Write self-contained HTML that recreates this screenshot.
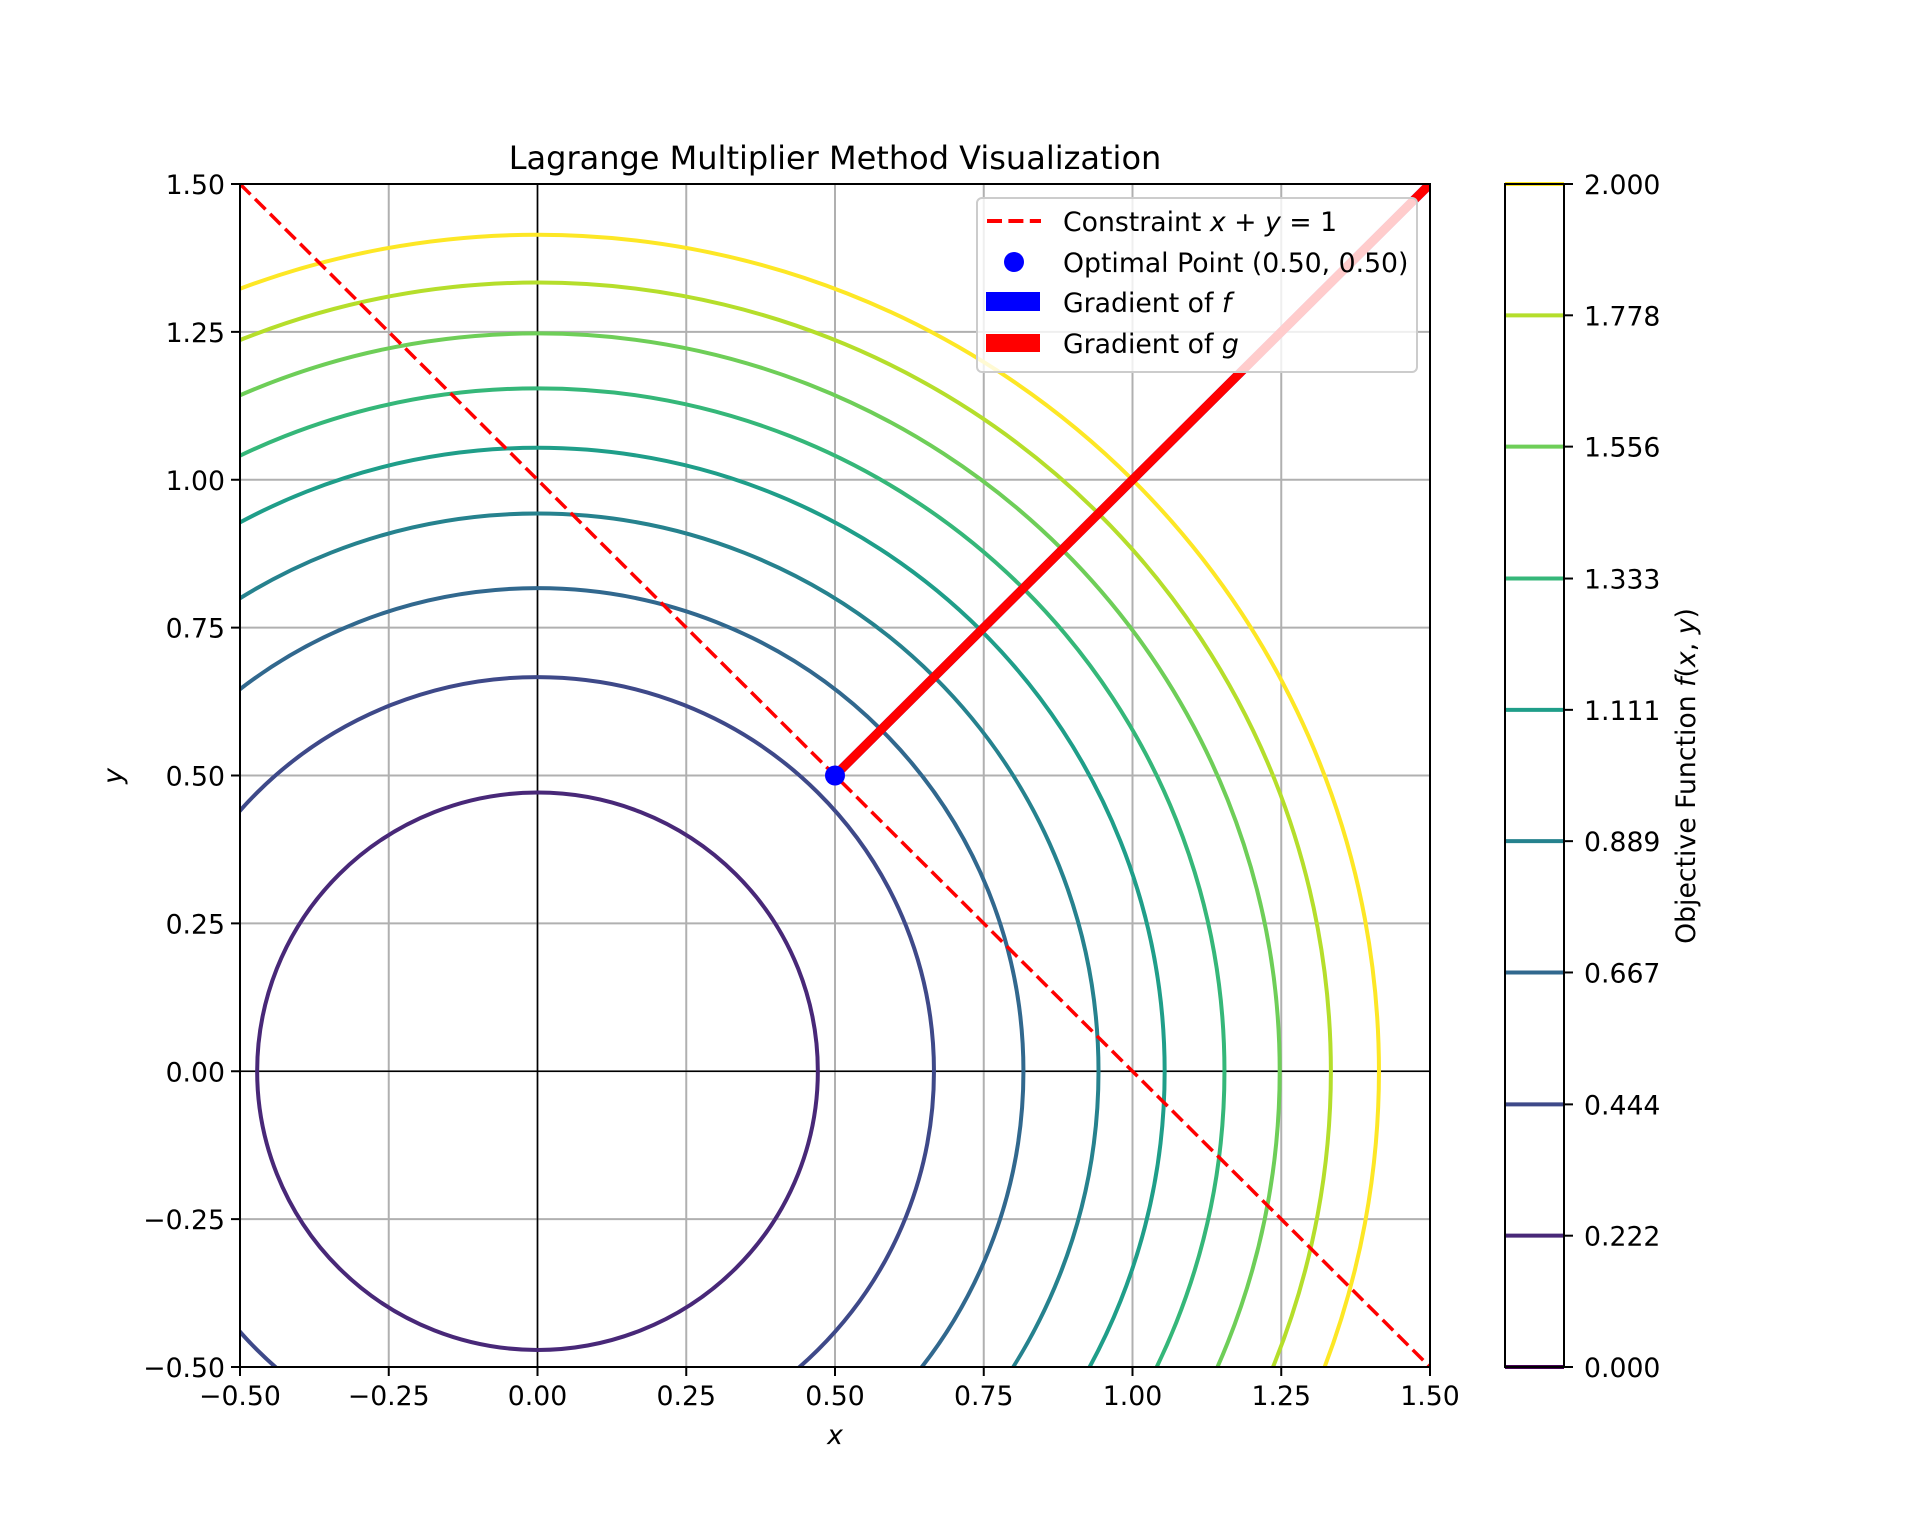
<!DOCTYPE html>
<html><head><meta charset="utf-8"><style>
html,body{margin:0;padding:0;background:#fff;width:1920px;height:1536px;overflow:hidden;}
svg{display:block;font-family:"DejaVu Sans","Liberation Sans",sans-serif;}
</style></head><body>
<svg id="chart" width="1920" height="1536" viewBox="0 0 1920 1536" xmlns="http://www.w3.org/2000/svg">
<defs><clipPath id="clip"><rect x="240" y="184" width="1190" height="1183"/></clipPath></defs>
<rect width="1920" height="1536" fill="#fff"/>
<text x="835" y="169" font-size="32" text-anchor="middle">Lagrange Multiplier Method Visualization</text>
<g id="grid"></g>
<g id="plot" clip-path="url(#clip)"></g>
<rect x="240" y="184" width="1190" height="1183" fill="none" stroke="#000" stroke-width="2"/>
<g id="ticks"></g>
<text x="835" y="1444" font-size="26.7" font-style="italic" text-anchor="middle">x</text>
<text x="0" y="0" font-size="26.7" font-style="italic" text-anchor="middle" transform="translate(122,776) rotate(-90)">y</text>
<g id="legend">
<rect x="977" y="198" width="440" height="174" rx="5" fill="#fff" fill-opacity="0.8" stroke="#ccc" stroke-width="2"/>
<line x1="987" y1="221" x2="1041" y2="221" stroke="red" stroke-width="4" stroke-dasharray="15,6.4"/>
<circle cx="1014" cy="262" r="10" fill="blue"/>
<rect x="986" y="292" width="54" height="19" fill="blue"/>
<rect x="986" y="334" width="54" height="18" fill="red"/>
<text x="1063" y="231" font-size="26.7">Constraint <tspan font-style="italic">x</tspan> + <tspan font-style="italic">y</tspan> = 1</text>
<text x="1063" y="272" font-size="26.7">Optimal Point (0.50, 0.50)</text>
<text x="1063" y="312" font-size="26.7">Gradient of <tspan font-style="italic">f</tspan></text>
<text x="1063" y="353" font-size="26.7">Gradient of <tspan font-style="italic">g</tspan></text>
</g>
<g id="cbar"></g>
<text x="0" y="0" font-size="26.7" text-anchor="middle" transform="translate(1695,776) rotate(-90)">Objective Function <tspan font-style="italic">f</tspan>(<tspan font-style="italic">x</tspan>, <tspan font-style="italic">y</tspan>)</text>
</svg>
<script>
const levels=[0,0.222,0.444,0.667,0.889,1.111,1.333,1.556,1.778,2.0];
const levelColors=["#440154","#482878","#3e4989","#31688e","#26828e","#1f9e89","#35b779","#6ece58","#b5de2b","#fde725"];
const xTicks=[-0.5,-0.25,0,0.25,0.5,0.75,1.0,1.25,1.5];
const yTicks=[-0.5,-0.25,0,0.25,0.5,0.75,1.0,1.25,1.5];
const cbarTicks=["0.000","0.222","0.444","0.667","0.889","1.111","1.333","1.556","1.778","2.000"];
const constraintX=[-0.5,1.5];
const constraintY=[1.5,-0.5];
const optimal=[0.5,0.5];
const gradG=[1,1];
const NS="http://www.w3.org/2000/svg";
const X0=240,X1=1430,Y0=1367,Y1=184;
function sx(v){return X0+(v+0.5)/2*(X1-X0);}
function sy(v){return Y0-(v+0.5)/2*(Y0-Y1);}
function cy(v){return 1367-v/2*(1367-184);}
function mk(tag,attrs,parent){const e=document.createElementNS(NS,tag);for(const k in attrs)e.setAttribute(k,attrs[k]);parent.appendChild(e);return e;}
const grid=document.getElementById('grid'),plot=document.getElementById('plot'),ticks=document.getElementById('ticks'),cbar=document.getElementById('cbar');
xTicks.forEach(t=>{
 const g=mk('line',{x1:sx(t),x2:sx(t),y1:Y1,y2:Y0,stroke:'#b0b0b0','stroke-width':2},grid);
 
 
 const tk=mk('line',{x1:sx(t),x2:sx(t),y1:Y0,y2:Y0+9,stroke:'#000','stroke-width':2},ticks);
 
 
 const tx=mk('text',{x:sx(t),y:Y0+38,'font-size':26.7,'text-anchor':'middle'},ticks);
 tx.textContent=(t<0?'\u2212':'')+Math.abs(t).toFixed(2);
 
 
});
yTicks.forEach(t=>{
 const g=mk('line',{x1:X0,x2:X1,y1:sy(t),y2:sy(t),stroke:'#b0b0b0','stroke-width':2},grid);
 
 
 const tk=mk('line',{x1:X0-9,x2:X0,y1:sy(t),y2:sy(t),stroke:'#000','stroke-width':2},ticks);
 
 
 const tx=mk('text',{x:X0-15,y:sy(t)+10,'font-size':26.7,'text-anchor':'end'},ticks);
 tx.textContent=(t<0?'\u2212':'')+Math.abs(t).toFixed(2);
 
 
});
let a=mk('line',{x1:sx(0),x2:sx(0),y1:Y1,y2:Y0,stroke:'#000','stroke-width':1.6},plot);


a=mk('line',{x1:X0,x2:X1,y1:sy(0),y2:sy(0),stroke:'#000','stroke-width':1.6},plot);


levels.forEach((lv,i)=>{
 if(lv<=0)return;
 const r=Math.sqrt(lv);
 const c=mk('ellipse',{cx:sx(0),cy:sy(0),rx:sx(r)-sx(0),ry:sy(0)-sy(r),fill:'none',stroke:levelColors[i],'stroke-width':4},plot);
 
 
});
let cl=mk('line',{x1:sx(constraintX[0]),y1:sy(constraintY[0]),x2:sx(constraintX[1]),y2:sy(constraintY[1]),stroke:'red','stroke-width':3.5,'stroke-dasharray':'14.8,6.4'},plot);


let gf=mk('line',{x1:sx(optimal[0]),y1:sy(optimal[1]),x2:sx(optimal[0]+gradG[0]*1.2),y2:sy(optimal[1]+gradG[1]*1.2),stroke:'blue','stroke-width':9},plot);


let gg=mk('line',{x1:sx(optimal[0]),y1:sy(optimal[1]),x2:sx(optimal[0]+gradG[0]*1.2),y2:sy(optimal[1]+gradG[1]*1.2),stroke:'red','stroke-width':9},plot);


let op=mk('circle',{cx:sx(optimal[0]),cy:sy(optimal[1]),r:10,fill:'blue'},plot);


const svg=document.getElementById('chart');
svg.appendChild(document.getElementById('legend'));
levels.forEach((lv,i)=>{
 const l=mk('line',{x1:1505,x2:1564,y1:cy(lv),y2:cy(lv),stroke:levelColors[i],'stroke-width':4},cbar);
 
 
 const tk=mk('line',{x1:1564,x2:1573,y1:cy(lv),y2:cy(lv),stroke:'#000','stroke-width':2},cbar);
 
 
 const tx=mk('text',{x:1584,y:cy(lv)+10,'font-size':26.7},cbar);
 tx.textContent=cbarTicks[i];
 
 
});
let cf=mk('rect',{x:1505,y:184,width:59,height:1183,fill:'none',stroke:'#000','stroke-width':2},cbar);


</script>
</body></html>
